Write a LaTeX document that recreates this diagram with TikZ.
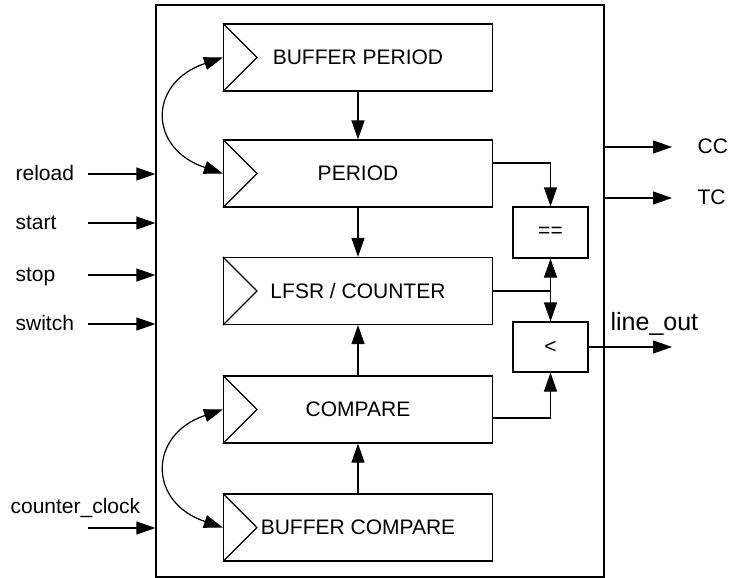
\documentclass[tikz,border=0pt]{standalone}
\usepackage{fontspec}
\setmainfont{Liberation Sans}
\usetikzlibrary{arrows.meta}

\begin{document}
\begin{tikzpicture}[x=1pt, y=-1pt, line width=1.2pt,
  every node/.style={font=\fontsize{21pt}{25pt}\selectfont},
  reg/.style={draw, minimum width=269pt, minimum height=67pt, inner sep=0pt},
  cmp/.style={draw, minimum width=75pt, minimum height=51pt, inner sep=0pt},
  lbl/.style={inner sep=0pt, text height=12pt, text depth=0pt},
  sig/.style={-{Triangle[length=19pt, width=13pt]}},
  bisig/.style={{Triangle[length=19pt, width=13pt]}-{Triangle[length=19pt, width=13pt]}}]
  \useasboundingbox (0,0) rectangle (731,578);
  \node[draw, minimum width=448pt, minimum height=572pt, inner sep=0pt] (block) at (380,291) {};

  \node[reg] (bufperiod) at (358,57.5) {BUFFER PERIOD};
  \node[reg] (period) at (358,173.5) {PERIOD};
  \node[reg] (counter) at (358,291) {LFSR / COUNTER};
  \node[reg] (compare) at (358,409.5) {COMPARE};
  \node[reg] (bufcompare) at (358,527.5) {BUFFER COMPARE};
  \node[cmp] (eq) at (550.5,232.5) {==};
  \node[cmp, minimum height=50pt] (lt) at (550.5,347) {<};
  \foreach \r in {bufperiod,period,counter,compare,bufcompare}
    \draw (\r.north west) -- ([xshift=34pt]\r.west) -- (\r.south west);

  \draw[sig] (bufperiod.south) -- (period.north);
  \draw[sig] (period.south) -- (counter.north);
  \draw[sig] (compare.north) -- (counter.south);
  \draw[sig] (bufcompare.north) -- (compare.south);
  \draw[bisig] (bufperiod.west) .. controls +(-75,25) and +(-75,-25) .. (period.west);
  \draw[bisig] (compare.west) .. controls +(-75,25) and +(-75,-25) .. (bufcompare.west);

  \draw[sig] ([yshift=10.5pt]period.east) -| (eq.north);
  \draw (counter.east) -- (counter.east -| eq.south) coordinate (fork);
  \draw[sig] (fork) -- (eq.south);
  \draw[sig] (fork) -- (lt.north);
  \draw[sig] ([yshift=-8.5pt]compare.east) -| (lt.south);

  \foreach \t/\y in {reload/174,start/223,stop/275,switch/324}{
    \node[lbl, anchor=west] (\t) at (15,\y) {\t};
    \coordinate (\t-in) at (88,\y);
    \draw[sig] (\t-in) -- (\t-in -| block.west);
  }
  \node[lbl, anchor=west] (clk) at (10,507) {counter\_clock};
  \coordinate (clk-in) at (88,528);
  \draw[sig] (clk-in) -- (clk-in -| block.west);

  \node[lbl, anchor=west] (cc) at (697,147) {CC};
  \node[lbl, anchor=west] (tc) at (697,198) {TC};
  \draw[sig] (block.east |- cc) -- ([xshift=-25pt]cc.west);
  \draw[sig] (block.east |- tc) -- ([xshift=-25pt]tc.west);
  \node[lbl, font=\fontsize{25pt}{30pt}\selectfont, anchor=base west] (lineout) at (610,330) {line\_out};
  \coordinate (lineend) at (672,347);
  \draw[sig] (lt.east) -- (lineend);
\end{tikzpicture}
\end{document}
